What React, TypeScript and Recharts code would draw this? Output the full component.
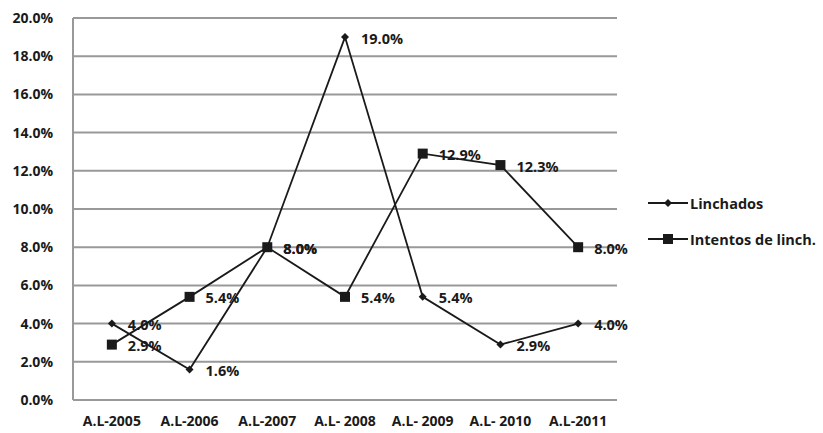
import React from 'react';
import { LineChart, Line, XAxis, YAxis, CartesianGrid, LabelList } from 'recharts';

const categories = ['A.L-2005', 'A.L-2006', 'A.L-2007', 'A.L- 2008', 'A.L- 2009', 'A.L- 2010', 'A.L-2011'];
const linchados = [4.0, 1.6, 8.0, 19.0, 5.4, 2.9, 4.0];
const intentos = [2.9, 5.4, 8.0, 5.4, 12.9, 12.3, 8.0];
const yTicks = [0, 2, 4, 6, 8, 10, 12, 14, 16, 18, 20];
const seriesNames = ['Linchados', 'Intentos de linch.'];

const data = categories.map((c, i) => ({ cat: c, linchados: linchados[i], intentos: intentos[i] }));

const FONT = '"Open Sans", sans-serif';
const INK = '#1a1a1a';
const GRID = '#999999';

const Diamond = (props: any) => {
  const { cx, cy } = props;
  if (cx == null || cy == null) return null;
  return <path d={`M${cx},${cy - 4} L${cx + 4},${cy} L${cx},${cy + 4} L${cx - 4},${cy} Z`} fill={INK} />;
};

const Square = (props: any) => {
  const { cx, cy } = props;
  if (cx == null || cy == null) return null;
  return <rect x={cx - 5} y={cy - 5} width={10} height={10} fill={INK} />;
};

const DataLabel = (props: any) => {
  const { x, y, value } = props;
  return (
    <text x={x + 16} y={y + 1} dominantBaseline="central" fontFamily={FONT} fontSize={14.5} fontWeight={700} fill={INK}>
      {`${Number(value).toFixed(1)}%`}
    </text>
  );
};

const LegendBox = () => (
  <div style={{ position: 'absolute', left: 646, top: 185, width: 177, fontFamily: FONT, fontSize: 14.5, fontWeight: 700, color: INK }}>
    {seriesNames.map((name, i) => (
      <div key={i} style={{ display: 'flex', alignItems: 'center', height: 36 }}>
        <svg width={44} height={14}>
          <line x1={2} y1={7} x2={42} y2={7} stroke={INK} strokeWidth={1.8} />
          {i === 0 ? (
            <path d="M22,3 L26,7 L22,11 L18,7 Z" fill={INK} />
          ) : (
            <rect x={17} y={2} width={10} height={10} fill={INK} />
          )}
        </svg>
        <span>{name}</span>
      </div>
    ))}
  </div>
);

export default function App() {
  return (
    <div style={{ position: 'absolute', left: 0, top: 0, width: 823, height: 433, background: '#fff' }}>
      <LineChart width={823} height={433} data={data} margin={{ top: 18, right: 206, bottom: 0, left: 13 }}>
        <CartesianGrid vertical={false} stroke={GRID} strokeWidth={2} />
        <XAxis
          dataKey="cat"
          scale="band"
          axisLine={{ stroke: GRID, strokeWidth: 2 }}
          tickLine={false}
          tickSize={6}
          tickMargin={10}
          height={33}
          interval={0}
          tick={{ fontFamily: FONT, fontSize: 14, fontWeight: 700, fill: INK }}
        />
        <YAxis
          domain={[0, 20]}
          ticks={yTicks}
          width={60}
          axisLine={{ stroke: GRID, strokeWidth: 2 }}
          tickLine={false}
          tickSize={6}
          tickMargin={14}
          tickFormatter={(v: number) => `${v.toFixed(1)}%`}
          tick={{ fontFamily: FONT, fontSize: 14, fontWeight: 700, fill: INK }}
        />
        <Line
          type="linear"
          dataKey="linchados"
          name={seriesNames[0]}
          stroke={INK}
          strokeWidth={1.8}
          dot={<Diamond />}
          activeDot={false}
          isAnimationActive={false}
        >
          <LabelList dataKey="linchados" content={<DataLabel />} />
        </Line>
        <Line
          type="linear"
          dataKey="intentos"
          name={seriesNames[1]}
          stroke={INK}
          strokeWidth={1.8}
          dot={<Square />}
          activeDot={false}
          isAnimationActive={false}
        >
          <LabelList dataKey="intentos" content={<DataLabel />} />
        </Line>
      </LineChart>
      <LegendBox />
    </div>
  );
}
